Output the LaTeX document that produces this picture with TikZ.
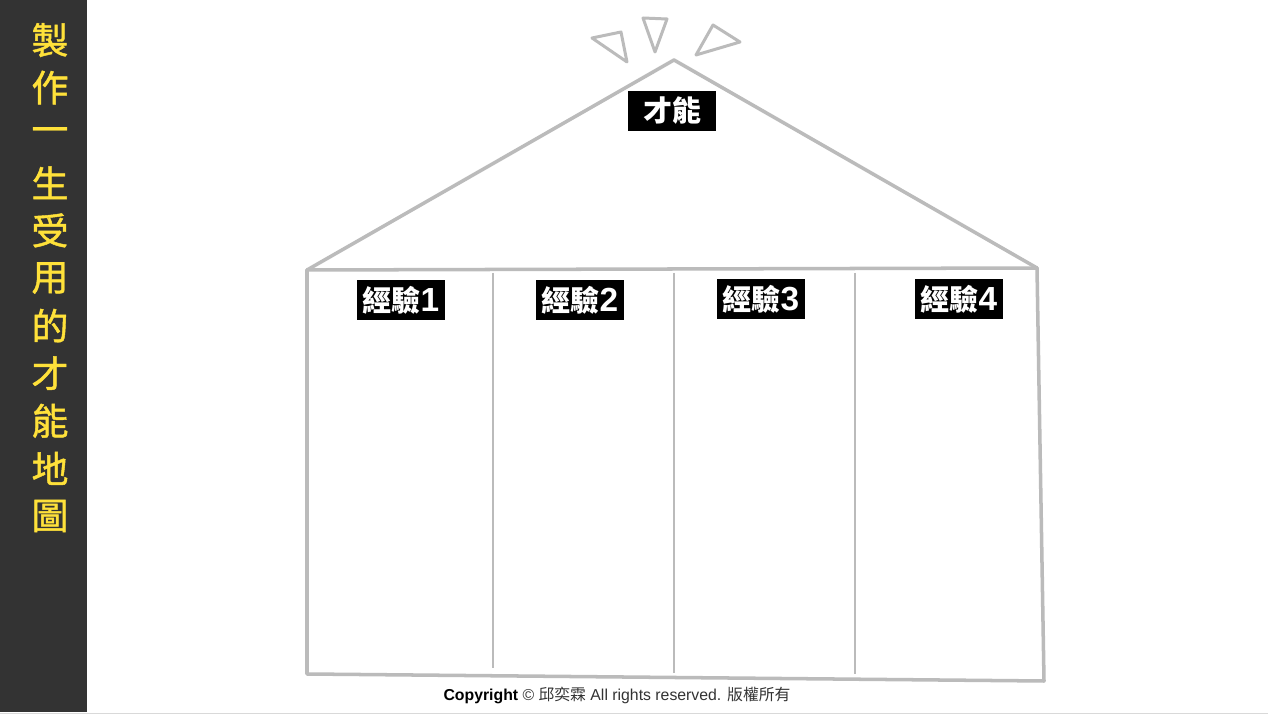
\documentclass[tikz,border=0pt]{standalone}
\usepackage{fontspec}
\setmainfont{Liberation Sans}
\newfontfamily\cjk{Noto Sans CJK TC}
\newfontfamily\cjkmid{Noto Sans CJK TC}[FakeBold=1.2]
\usepackage{tikz}
\usepackage{xcolor}
\usetikzlibrary{positioning}

\definecolor{sidebar}{HTML}{333333}
\definecolor{titleyellow}{HTML}{FFE13A}
\definecolor{chalk}{HTML}{BBBBBB}

\newcommand{\digit}[1]{{\normalfont\bfseries\fontsize{19}{18}\selectfont #1}}

\tikzset{
    wall/.style={draw=chalk, line width=2pt, line join=round, line cap=round},
    divider/.style={draw=chalk, line width=1.1pt},
    spark/.style={draw=chalk, line width=1.7pt, line join=round},
    tag/.style={fill=black, text=white, font=\cjk\bfseries\fontsize{16.5}{18}\selectfont,
        minimum width=1.76cm, minimum height=0.8cm, inner sep=0pt},
}

\begin{document}
\begin{tikzpicture}[x=0.02cm, y=-0.02cm]
        \useasboundingbox (0, 0) rectangle (1268, 715);
        \fill[white] (0, 0) rectangle (1268, 715);

        % sidebar with vertical title
        \fill[sidebar] (0, 0) rectangle (87, 712);
        \draw[black!15, line width=0.6pt] (0, 713.5) -- (1268, 713.5);
        \foreach \ch [count=\i] in {製,作,一,生,受,用,的,才,能,地,圖}
            \node[text=titleyellow, font=\cjkmid\fontsize{21}{21}\selectfont, inner sep=0pt]
                (title\i) at (50, {40 + (\i-1)*47.6}) {\ch};

        % house outline
        \coordinate (apex) at (674, 60);
        \coordinate (eaveL) at (307, 270);
        \coordinate (eaveR) at (1037, 268);
        \coordinate (footL) at (307, 674);
        \coordinate (footR) at (1044, 681);

        \draw[wall] (eaveL) -- (apex) -- (eaveR);
        \draw[wall] (eaveL) -- (eaveR);
        \draw[wall] (eaveL) -- (footL) -- (footR) -- (eaveR);

        % pillars
        \coordinate (d1t) at (493, 273);
        \coordinate (d1b) at (493, 668);
        \coordinate (d2t) at (674, 273);
        \coordinate (d2b) at (674, 673);
        \coordinate (d3t) at (855, 273);
        \coordinate (d3b) at (855, 674);
        \draw[divider] (d1t) -- (d1b);
        \draw[divider] (d2t) -- (d2b);
        \draw[divider] (d3t) -- (d3b);

        % sparks above the roof
        \draw[spark] (592, 38) -- (621, 32) -- (627, 62) -- cycle;
        \draw[spark] (643, 18) -- (667, 19) -- (655, 52) -- cycle;
        \draw[spark] (713, 25) -- (740, 42) -- (696, 55) -- cycle;

        % labels
        \node[tag] (talent) at (672, 111) {才能};
        \node[tag] (exp1) at (401, 300.5) {經驗\digit{1}};
        \node[tag] (exp2) at (580, 300.5) {經驗\digit{2}};
        \node[tag] (exp3) at (761, 299.5) {經驗\digit{3}};
        \node[tag] (exp4) at (959, 299.5) {經驗\digit{4}};

        % footer
        \node[text=black!80, font=\fontsize{9}{10}\selectfont, inner sep=0pt] (copy) at (617, 695)
            {\textcolor{black}{\textbf{Copyright}} © {\cjk 邱奕霖} All rights reserved. {\cjk 版權所有}};
    \end{tikzpicture}
\end{document}
